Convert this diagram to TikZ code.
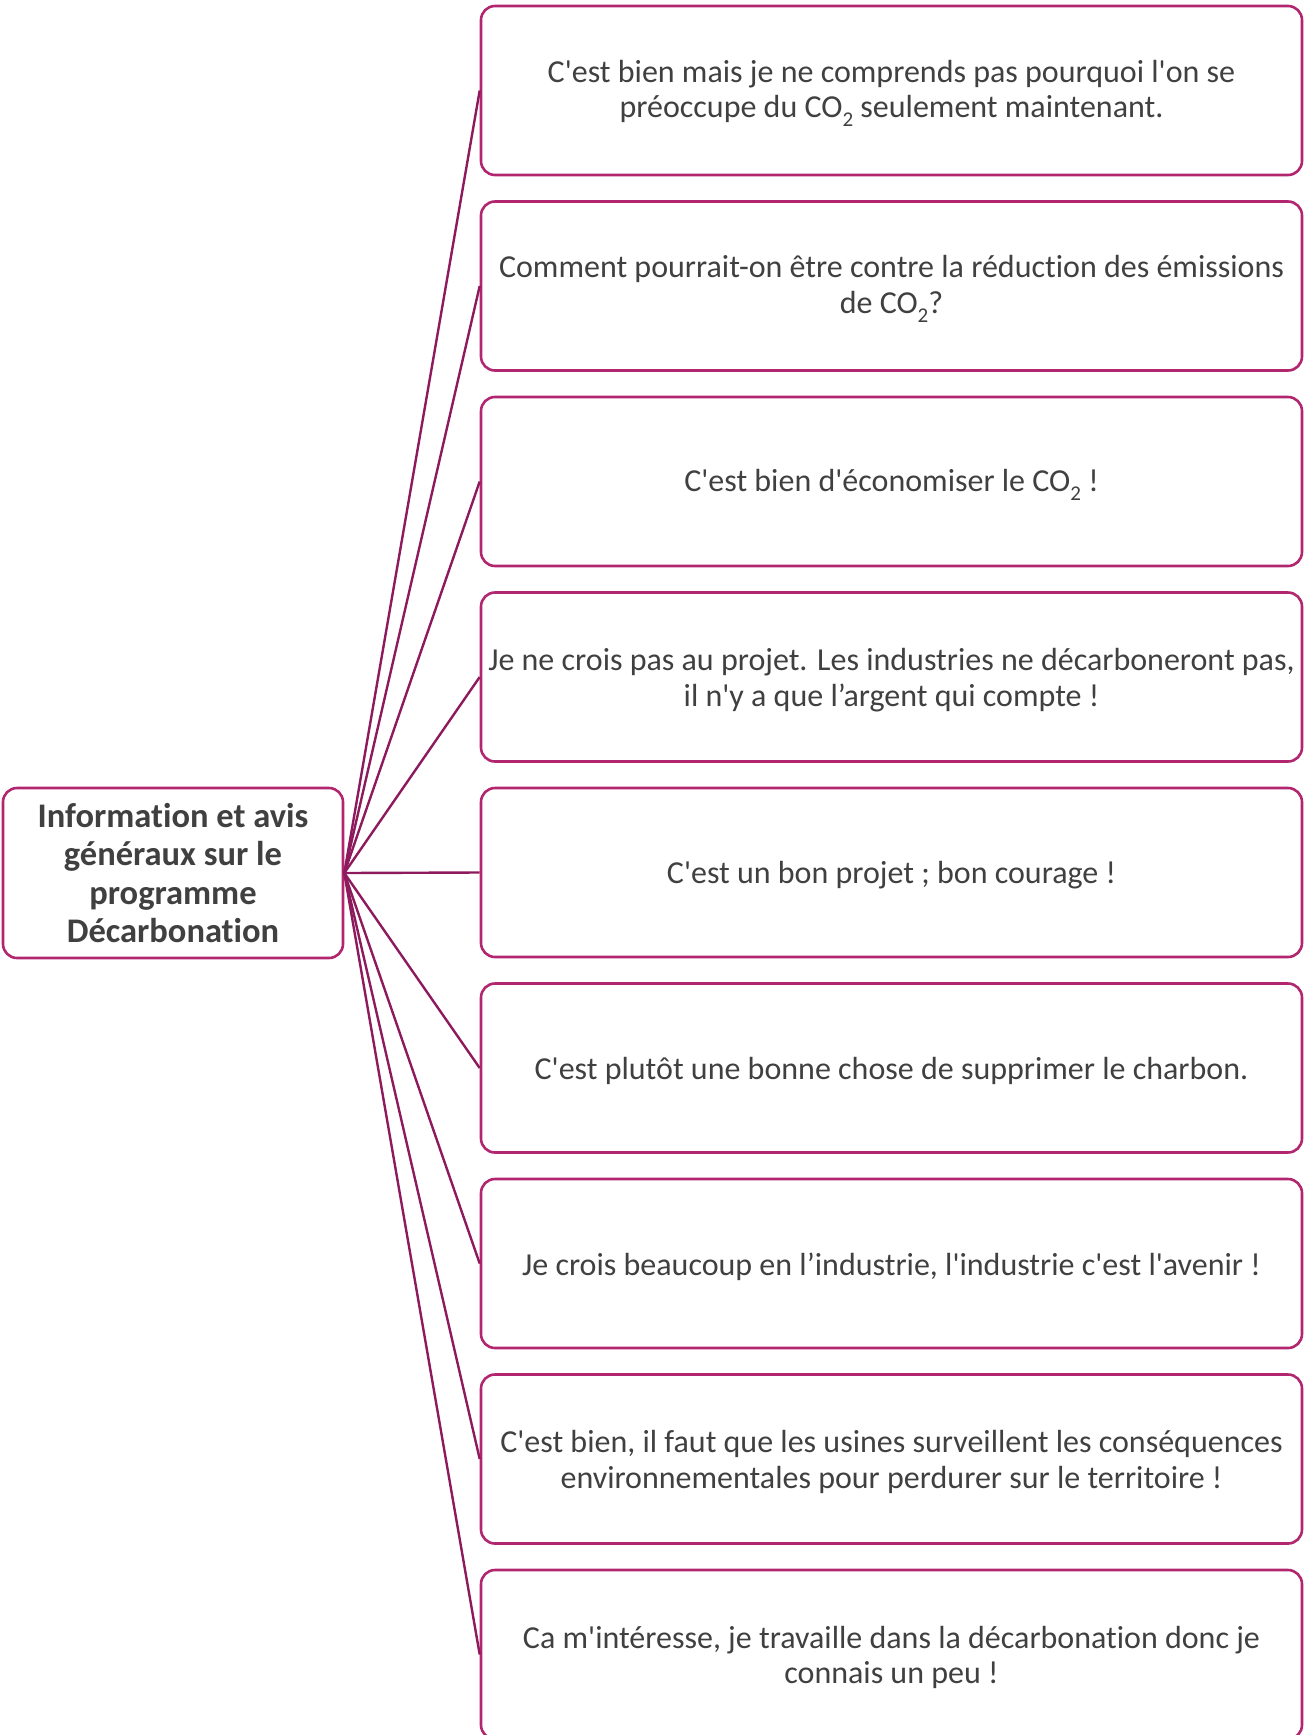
\documentclass[tikz,border=0pt]{standalone}
\usepackage{fontspec}
\newfontfamily\calfont{Carlito}[Ligatures=NoCommon]
\definecolor{boxcol}{RGB}{178,38,112}
\definecolor{linecol}{RGB}{142,26,94}
\definecolor{txtcol}{RGB}{64,64,64}
\newcommand{\subtwo}{\raisebox{-0.28em}{\fontsize{21}{21}\selectfont 2}}
\begin{document}
\begin{tikzpicture}[x=1pt,y=-1pt,
  frame/.style={draw=boxcol, line width=2.6pt, rounded corners=14pt, fill=white,
    minimum width=821pt, minimum height=169pt, inner sep=0pt},
  opinion/.style={align=center, inner sep=0pt, yshift=-3pt,
    text=txtcol, font=\calfont\fontsize{32}{35.5}\selectfont},
  hub/.style={draw=boxcol, line width=2.6pt, rounded corners=14pt, fill=white,
    minimum width=340pt, minimum height=170pt, align=center, inner sep=0pt,
    text=txtcol, font=\calfont\fontsize{34.5}{38.2}\selectfont\bfseries},
  link/.style={draw=linecol, line width=2.4pt}]
\useasboundingbox (0,0) rectangle (1304,1735);
\node[hub] (c) at (173,873) {Information et avis\\généraux sur le\\programme\\Décarbonation};
\foreach \i/\y in {1/90.5,2/286,3/481.5,4/677,5/872.5,6/1068,7/1263.5,8/1459,9/1654.5}
  \node[frame] (f\i) at (891.5,\y) {};
\node[opinion] (b1) at (f1) {C'est bien mais je ne comprends pas pourquoi l'on se\\préoccupe du CO\subtwo{} seulement maintenant.};
\node[opinion] (b2) at (f2) {Comment pourrait-on être contre la réduction des émissions\\de CO\subtwo?};
\node[opinion] (b3) at (f3) {C'est bien d'économiser le CO\subtwo{} !};
\node[opinion] (b4) at (f4) {Je ne crois pas au projet. Les industries ne décarboneront pas,\\il n'y a que l’argent qui compte !};
\node[opinion] (b5) at (f5) {C'est un bon projet ; bon courage !};
\node[opinion] (b6) at (f6) {C'est plutôt une bonne chose de supprimer le charbon.};
\node[opinion] (b7) at (f7) {Je crois beaucoup en l’industrie, l'industrie c'est l'avenir !};
\node[opinion] (b8) at (f8) {C'est bien, il faut que les usines surveillent les conséquences\\environnementales pour perdurer sur le territoire !};
\node[opinion] (b9) at (f9) {Ca m'intéresse, je travaille dans la décarbonation donc je\\connais un peu !};
\foreach \i in {1,...,9} \draw[link] (c.east) -- (f\i.west);
\end{tikzpicture}
\end{document}
